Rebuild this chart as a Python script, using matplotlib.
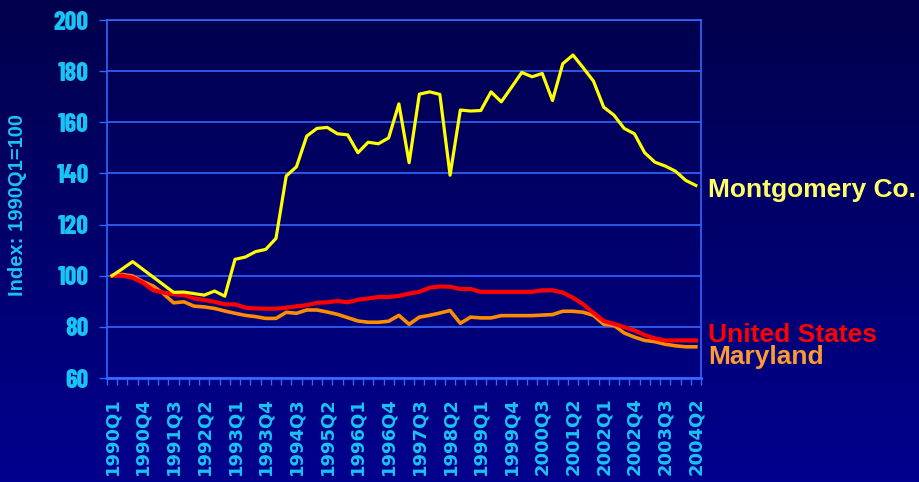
import numpy as np
import matplotlib
matplotlib.use("Agg")
import matplotlib.pyplot as plt
from matplotlib.colors import LinearSegmentedColormap

quarters = [f"{y}Q{q}" for y in range(1990, 2005) for q in range(1, 5)][:58]
tick_labels = ["1990Q1", "1990Q4", "1991Q3", "1992Q2", "1993Q1", "1993Q4", "1994Q3",
               "1995Q2", "1996Q1", "1996Q4", "1997Q3", "1998Q2", "1999Q1", "1999Q4",
               "2000Q3", "2001Q2", "2002Q1", "2002Q4", "2003Q3", "2004Q2"]

montgomery = [100, 102.7, 105.5, 102.5, 99.5, 96.5, 93.5, 93.6, 93.0, 92.4,
              94.0, 92.0, 106.4, 107.3, 109.4, 110.3, 114.6, 139.0, 142.6, 154.6,
              157.6, 158.0, 155.5, 155.1, 148.1, 152.2, 151.6, 153.9, 167.2, 144.2,
              171.0, 171.9, 170.9, 139.3, 164.8, 164.4, 164.6, 171.9, 168.0, 173.7,
              179.5, 177.8, 179.1, 168.5, 182.9, 186.3, 181.3, 176.1, 165.9, 162.8,
              157.6, 155.5, 148.1, 144.4, 142.9, 140.9, 137.3, 135.3]
united_states = [100, 100, 99.2, 97.3, 94.3, 93.4, 92.7, 92.4, 91.1, 90.5,
                 89.8, 88.8, 88.8, 87.5, 87.2, 87.1, 87.1, 87.5, 88.0, 88.5,
                 89.4, 89.6, 90.1, 89.6, 90.6, 91.1, 91.7, 91.7, 92.1, 93.0,
                 93.7, 95.3, 95.8, 95.7, 94.8, 94.8, 93.7, 93.7, 93.7, 93.7,
                 93.7, 93.7, 94.3, 94.3, 93.4, 91.4, 88.8, 85.5, 82.3, 81.2,
                 79.9, 78.6, 76.8, 75.5, 74.7, 74.7, 74.7, 74.7]
maryland = [100, 100.5, 99.9, 97.7, 96.0, 93.0, 89.4, 89.8, 88.1, 87.8,
            87.2, 86.2, 85.3, 84.5, 84.0, 83.3, 83.3, 85.7, 85.3, 86.6,
            86.6, 85.8, 84.9, 83.6, 82.3, 81.8, 81.8, 82.2, 84.5, 81.0,
            83.8, 84.5, 85.4, 86.4, 81.4, 83.8, 83.5, 83.5, 84.4, 84.4,
            84.4, 84.4, 84.6, 84.8, 86.1, 86.1, 85.7, 84.5, 81.0, 80.6,
            77.6, 76.0, 74.7, 74.2, 73.2, 72.6, 72.2, 72.2]

W, H = 920, 482
fig = plt.figure(figsize=(W / 100, H / 100), dpi=100)

# background gradient
bg = fig.add_axes([0, 0, 1, 1], zorder=-10)
cmap = LinearSegmentedColormap.from_list("bg", ["#00004C", "#00008E"])
grad = np.linspace(0, 1, 256).reshape(-1, 1)
bg.imshow(grad, aspect="auto", cmap=cmap, extent=[0, 1, 0, 1], origin="upper")
bg.set_axis_off()

grid_c = "#3366FF"
txt_c = "#19C3F5"

ax = fig.add_axes([107 / W, 1 - 378 / H, (701 - 107) / W, (378 - 20) / H])
ax.patch.set_alpha(0)

x = np.arange(len(quarters))
ax.plot(x, maryland, color="#FF8C00", lw=2.6, zorder=3)
ax.plot(x, united_states, color="#FF0000", lw=3.0, zorder=4)
ax.plot(x, montgomery, color="#FFFF00", lw=2.3, zorder=5)

ax.set_xlim(-0.5, len(quarters) - 0.5)
ax.set_ylim(60, 200)
ax.set_yticks(np.arange(60, 201, 20))
ax.yaxis.grid(True, color=grid_c, lw=1.2)
ax.set_axisbelow(True)

tick_pos = [quarters.index(t) for t in tick_labels]
ax.set_xticks(tick_pos)
ax.set_xticklabels(tick_labels, rotation=90, fontsize=13, fontweight="bold",
                   color=txt_c, family="DejaVu Sans")
ax.set_xticks(np.arange(-0.5, len(quarters), 1), minor=True)
ax.tick_params(axis="x", which="major", length=0, pad=14)
ax.tick_params(axis="x", which="minor", length=5, color=grid_c, width=1, direction="out")
ax.tick_params(axis="y", length=6, color=grid_c, width=1, pad=7)
for lab in ax.get_yticklabels():
    lab.set_family(["Barlow Condensed", "Liberation Sans"])
    lab.set_fontweight(800)
    lab.set_fontsize(18.5)
    lab.set_color(txt_c)

for s in ax.spines.values():
    s.set_color(grid_c)
    s.set_linewidth(1.2)
ax.spines["bottom"].set_linewidth(2)

fig.text(18 / W, 1 - 205 / H, "Index: 1990Q1=100", rotation=90, ha="center", va="center",
         fontsize=14.5, fontweight="bold", color=txt_c, family="Liberation Sans")

fig.text(708 / W, 1 - 196.5 / H, "Montgomery Co.", ha="left", va="baseline",
         fontsize=19, fontweight="bold", color="#FFFF66", family="Liberation Sans")
fig.text(708 / W, 1 - 341.5 / H, "United States", ha="left", va="baseline",
         fontsize=19, fontweight="bold", color="#FF0000", family="Liberation Sans")
fig.text(708 / W, 1 - 364 / H, "Maryland", ha="left", va="baseline",
         fontsize=19, fontweight="bold", color="#FF9933", family="Liberation Sans")

fig.savefig("out.png", dpi=100)
